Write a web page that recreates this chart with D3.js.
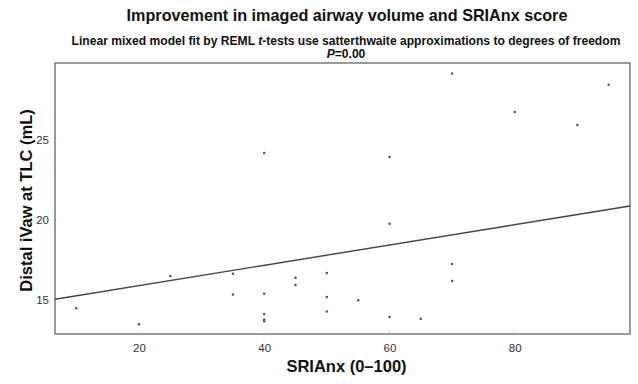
<!DOCTYPE html>
<html>
<head>
<meta charset="utf-8">
<script src="https://cdn.jsdelivr.net/npm/d3@7"></script>
<style>
  html, body { margin: 0; padding: 0; background: #fff; }
  text { font-family: "Liberation Sans", Arial, sans-serif; }
</style>
</head>
<body>
<svg id="chart" width="638" height="384"></svg>
<script>
// ---- data ----
const sriAnx = [10, 20, 25, 35, 35, 40, 40, 40, 40, 40, 45, 45, 50, 50, 50, 55, 60, 60, 60, 65, 70, 70, 70, 80, 90, 95];
const ivaw   = [14.5, 13.5, 16.5, 16.65, 15.35, 24.15, 15.4, 14.15, 13.8, 13.7, 16.4, 15.95, 16.7, 15.2, 14.3, 15.0, 23.9, 19.75, 13.95, 13.85, 29.1, 17.25, 16.2, 26.7, 25.9, 28.4];
const fitX = [6.6, 98.4];
const fitY = [15.06, 20.86];
const xTicks = [20, 40, 60, 80];
const yTicks = [15, 20, 25];
const xDomain = [6.6, 98.4];
const yDomain = [12.9, 29.75];

const svg = d3.select("#chart");
const m = { left: 55, right: 630, top: 63, bottom: 334 };

const x = d3.scaleLinear().domain(xDomain).range([m.left, m.right]);
const y = d3.scaleLinear().domain(yDomain).range([m.bottom, m.top]);

// titles
svg.append("text").attr("x", 347).attr("y", 21).attr("text-anchor", "middle")
  .attr("font-size", 16.2).attr("font-weight", "bold").attr("fill", "#111")
  .text("Improvement in imaged airway volume and SRIAnx score");

const sub = svg.append("text").attr("x", 346).attr("y", 45).attr("text-anchor", "middle")
  .attr("font-size", 12.1).attr("font-weight", "bold").attr("fill", "#111");
sub.append("tspan").text("Linear mixed model fit by REML ");
sub.append("tspan").attr("font-style", "italic").text("t");
sub.append("tspan").text("-tests use satterthwaite approximations to degrees of freedom");

const p = svg.append("text").attr("x", 346).attr("y", 58).attr("text-anchor", "middle")
  .attr("font-size", 12.1).attr("font-weight", "bold").attr("fill", "#111");
p.append("tspan").attr("font-style", "italic").text("P");
p.append("tspan").text("=0.00");

// axes
const xAxis = svg.append("g").attr("transform", `translate(0,${m.bottom})`)
  .call(d3.axisBottom(x).tickValues(xTicks).tickSize(0).tickPadding(10));
xAxis.select(".domain").remove();
xAxis.selectAll("text").attr("font-size", 11.5).attr("fill", "#333")
  .attr("font-family", "Liberation Sans, Arial, sans-serif");

const yAxis = svg.append("g").attr("transform", `translate(${m.left},0)`)
  .call(d3.axisLeft(y).tickValues(yTicks).tickSize(0).tickPadding(6));
yAxis.select(".domain").remove();
yAxis.selectAll("text").attr("font-size", 11.5).attr("fill", "#333")
  .attr("font-family", "Liberation Sans, Arial, sans-serif");

// faint tick marks inside panel bottom
svg.append("g").selectAll("line").data(xTicks).join("line")
  .attr("x1", d => x(d)).attr("x2", d => x(d))
  .attr("y1", m.bottom - 4).attr("y2", m.bottom)
  .attr("stroke", "#ddd").attr("stroke-width", 1);

// panel border
svg.append("rect").attr("x", m.left).attr("y", m.top)
  .attr("width", m.right - m.left).attr("height", m.bottom - m.top)
  .attr("fill", "none").attr("stroke", "#707070").attr("stroke-width", 1.4);

// regression line
const line = d3.line().x(d => x(d[0])).y(d => y(d[1]));
svg.append("path").datum(fitX.map((v, i) => [v, fitY[i]]))
  .attr("d", line).attr("fill", "none").attr("stroke", "#444").attr("stroke-width", 1.4);

// points
svg.append("g").selectAll("circle").data(sriAnx.map((v, i) => [v, ivaw[i]])).join("circle")
  .attr("cx", d => x(d[0])).attr("cy", d => y(d[1])).attr("r", 1.25)
  .attr("fill", "#555");

// axis labels
svg.append("text").attr("x", (m.left + m.right) / 2 + 4).attr("y", 372).attr("text-anchor", "middle")
  .attr("font-size", 16.5).attr("font-weight", "bold").attr("fill", "#111")
  .text("SRIAnx (0–100)");

svg.append("text").attr("transform", `translate(32,${(m.top + m.bottom) / 2 + 2}) rotate(-90)`)
  .attr("text-anchor", "middle")
  .attr("font-size", 16.5).attr("font-weight", "bold").attr("fill", "#111")
  .text("Distal iVaw at TLC (mL)");
</script>
</body>
</html>
